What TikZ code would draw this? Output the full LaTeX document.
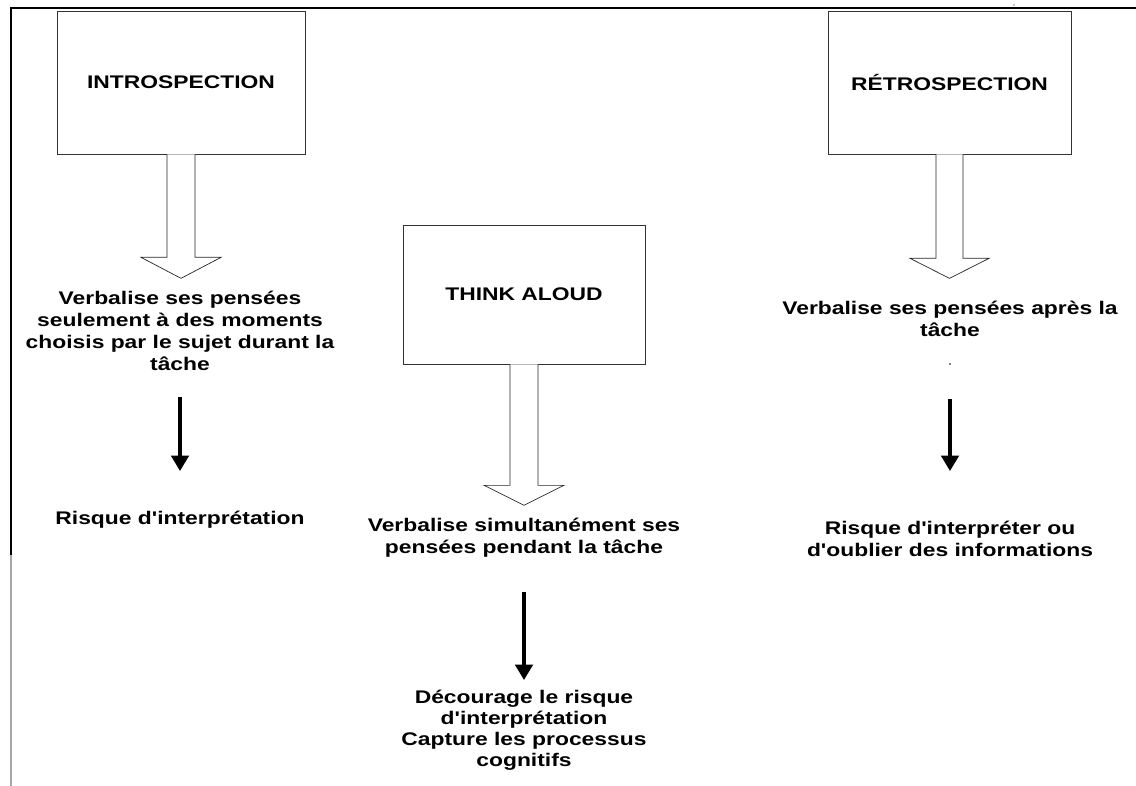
\documentclass[tikz,border=0pt]{standalone}
\usepackage{fontspec}
\setmainfont{Liberation Sans}[FakeStretch=1.25, Ligatures=TeXOff]
\usetikzlibrary{positioning, arrows.meta, calc}

\begin{document}
\begin{tikzpicture}[x=0.025cm, y=-0.025cm,
    titlebox/.style={draw=black!80, line width=0.5pt, inner sep=0pt},
    note/.style={align=center, inner sep=0pt, anchor=north,
                 font=\fontsize{13}{15.6}\selectfont\bfseries},
    thinarrow/.style={line width=2.3pt, -{Triangle[length=11pt, width=12.5pt]}},
    blockarrow/.style={draw=black!85, line width=0.5pt, fill=white}]

        \useasboundingbox (0,0) rectangle (1136,786);

        % Frame
        \draw[line width=1.4pt] (10,8) -- (1136,8);
        \draw[line width=1.4pt] (11,8) -- (11,555);
        \draw[line width=1.1pt, black!35] (11,555) -- (11,786);

        % Introspection
        \node[titlebox, minimum width=248*0.025cm, minimum height=143*0.025cm,
              font=\fontsize{13}{15.6}\selectfont\bfseries] (intro) at (181,82.5) {INTROSPECTION};
        \node[note] (t1) at (180,291) {Verbalise ses pensées\\seulement à des moments\\choisis par le sujet durant la\\tâche};
        \node[note] (r1) at (180,511) {Risque d'interprétation};
        \draw[blockarrow] ($(intro.south)+(-14,0)$) -- ++(0,103) -- ++(-26,0) -- ++(40,21)
            -- ++(40,-21) -- ++(-26,0) -- ++(0,-103);
        \draw[thinarrow] ($(t1.south)+(0,26)$) -- ($(r1.north)+(0,-40)$);

        % Think aloud
        \node[titlebox, minimum width=242*0.025cm, minimum height=139*0.025cm,
              font=\fontsize{13}{15.6}\selectfont\bfseries] (think) at (524,294.5) {THINK ALOUD};
        \node[note] (t2) at (524,518) {Verbalise simultanément ses\\pensées pendant la tâche};
        \node[note, font=\fontsize{13}{15}\selectfont\bfseries] (r2) at (524,690)
            {Décourage le risque\\d'interprétation\\Capture les processus\\cognitifs};
        \draw[blockarrow] ($(think.south)+(-14,0)$) -- ++(0,121) -- ++(-26,0) -- ++(40,20)
            -- ++(40,-20) -- ++(-26,0) -- ++(0,-121);
        \draw[thinarrow] ($(t2.south)+(0,34)$) -- ($(r2.north)+(0,-10)$);

        % Retrospection
        \node[titlebox, minimum width=243*0.025cm, minimum height=143*0.025cm,
              font=\fontsize{13}{15.6}\selectfont\bfseries] (retro) at (949.5,82.5) {RÉTROSPECTION};
        \node[note] (t3) at (950,301) {Verbalise ses pensées après la\\tâche};
        \node[note] (r3) at (950,521) {Risque d'interpréter ou\\d'oublier des informations};
        \draw[blockarrow] ($(retro.south)+(-13.5,0)$) -- ++(0,104) -- ++(-26,0) -- ++(39.5,20)
            -- ++(39.5,-20) -- ++(-26,0) -- ++(0,-104);
        \draw[thinarrow] ($(t3.south)+(0,62)$) -- ($(r3.north)+(0,-50)$);

        % Stray dots
        \fill (950,364) circle (0.9);
        \fill (1014,5) circle (0.7);

\end{tikzpicture}
\end{document}
